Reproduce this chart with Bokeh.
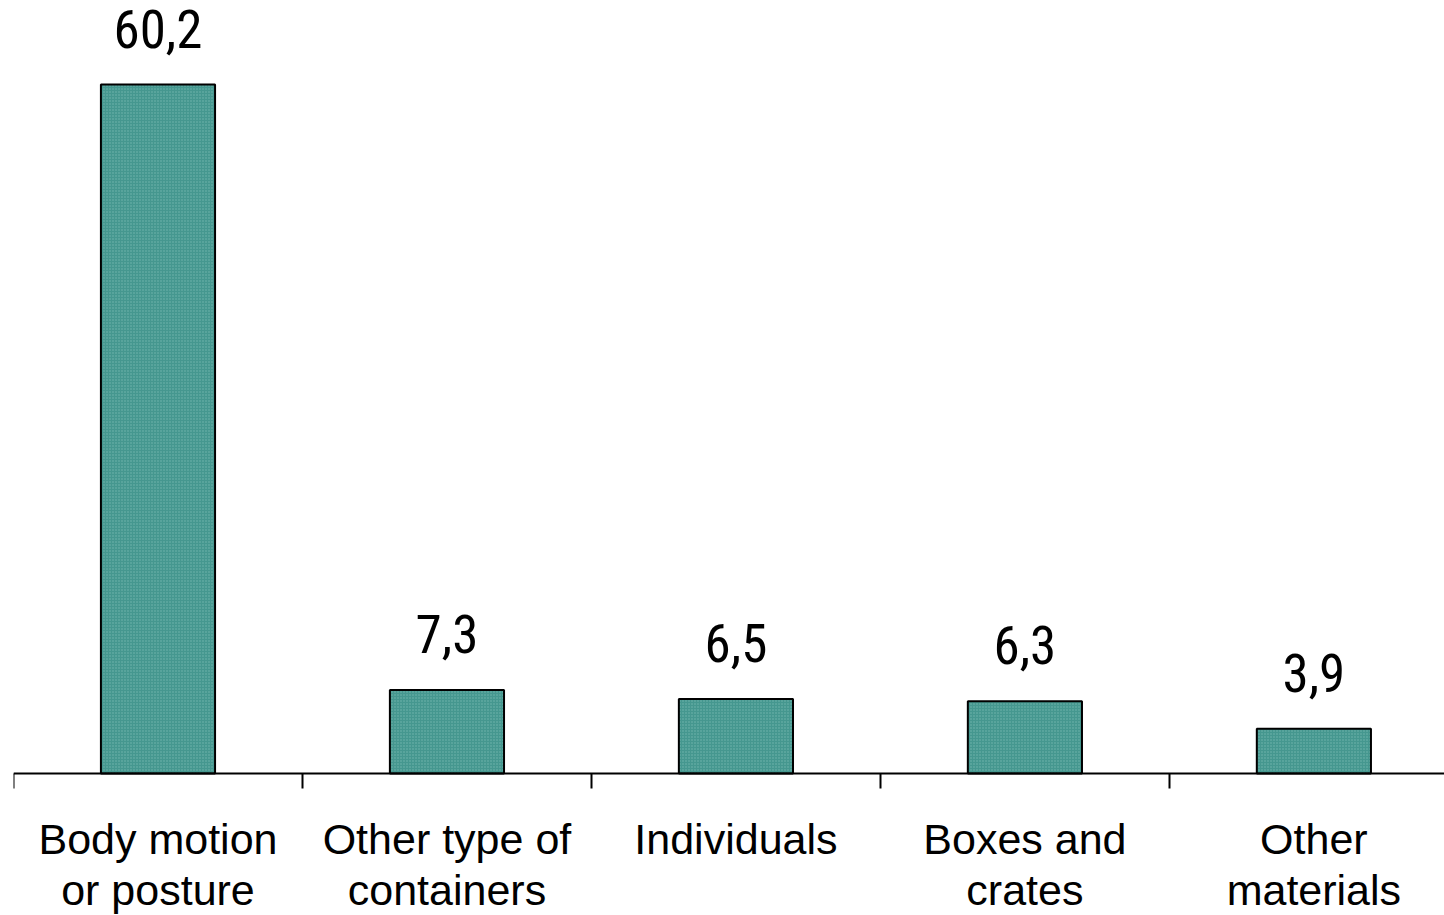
from bokeh.plotting import figure
from bokeh.models import ColumnDataSource, Range1d, LinearAxis, FixedTicker
from bokeh.core.properties import value
from bokeh.embed import file_html
from bokeh.resources import INLINE

# Shares by source of injury (%)
categories = ["Body motion\nor posture", "Other type of\ncontainers", "Individuals",
              "Boxes and\ncrates", "Other\nmaterials"]
shares = [60.2, 7.3, 6.5, 6.3, 3.9]
share_labels = ["60,2", "7,3", "6,5", "6,3", "3,9"]

centers = [i + 0.5 for i in range(len(categories))]
boundaries = list(range(len(categories) + 1))

src = ColumnDataSource(dict(x=centers, top=shares, label=share_labels))

p = figure(width=1444, height=915, output_backend="svg", toolbar_location=None,
           x_range=Range1d(0, 4.952), y_range=Range1d(-12.41, 67.54),
           min_border_left=13, min_border_right=0, min_border_top=0, min_border_bottom=0,
           x_axis_location=None, y_axis_location=None)
p.outline_line_color = None
p.grid.visible = False
p.background_fill_color = "white"
p.border_fill_color = "white"

p.vbar(x="x", top="top", width=0.395, bottom=0, source=src,
       fill_color="#45978f", line_color="black", line_width=2,
       hatch_pattern="dot", hatch_color="#8ccac5", hatch_scale=3, hatch_alpha=0.65)

p.text(x="x", y="top", text="label", source=src, y_offset=-56,
       text_align="center", text_baseline="alphabetic",
       text_font=value("'Roboto Condensed', 'DejaVu Sans Condensed', sans-serif"),
       text_font_size="53px", text_color="black")

# category axis pinned at zero: boundary ticks, centred two-line labels
xaxis = LinearAxis(ticker=FixedTicker(ticks=centers, minor_ticks=boundaries), fixed_location=0)
xaxis.major_label_overrides = {c: lab for c, lab in zip(centers, categories)}
xaxis.axis_line_color = "black"
xaxis.axis_line_width = 2
xaxis.major_tick_line_color = None
xaxis.major_tick_out = 0
xaxis.major_tick_in = 0
xaxis.minor_tick_line_color = "black"
xaxis.minor_tick_line_width = 2
xaxis.minor_tick_out = 15
xaxis.minor_tick_in = 0
xaxis.major_label_standoff = 27
xaxis.major_label_text_font = "Liberation Sans"
xaxis.major_label_text_font_size = "43px"
xaxis.major_label_text_color = "black"
xaxis.major_label_text_line_height = 1.05
p.add_layout(xaxis, "below")

open("out.html", "w").write(file_html(p, INLINE))
